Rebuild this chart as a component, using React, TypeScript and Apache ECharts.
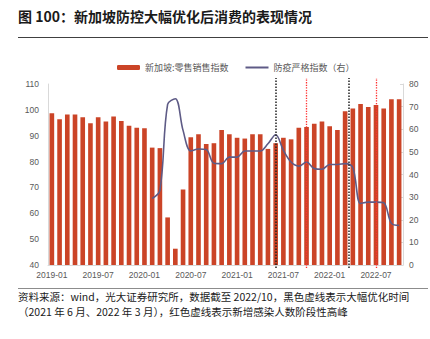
import React, { useEffect, useRef } from "react";
import * as echarts from "echarts";

const months: string[] = [
  "2019-01","2019-02","2019-03","2019-04","2019-05","2019-06","2019-07","2019-08","2019-09","2019-10","2019-11","2019-12",
  "2020-01","2020-02","2020-03","2020-04","2020-05","2020-06","2020-07","2020-08","2020-09","2020-10","2020-11","2020-12",
  "2021-01","2021-02","2021-03","2021-04","2021-05","2021-06","2021-07","2021-08","2021-09","2021-10","2021-11","2021-12",
  "2022-01","2022-02","2022-03","2022-04","2022-05","2022-06","2022-07","2022-08","2022-09","2022-10",
];

const retailIndex: number[] = [
  98.7, 96.4, 98.2, 98.2, 97.1, 94.8, 97.1, 95.5, 97.4, 95.7, 93.9, 93.1,
  92.9, 85.4, 85.2, 58.4, 46.3, 69.2, 89.4, 90.6, 86.8, 87.1, 92.2, 90.6,
  89.2, 88.9, 90.6, 90.6, 84.9, 87.1, 89.2, 88.6, 93.1, 93.4, 94.6, 95.5,
  93.7, 92.2, 99.5, 100.5, 102.3, 101.1, 101.9, 100.5, 104.1, 104.1,
];

const stringencyIndex: (number | null)[] = [
  null, null, null, null, null, null, null, null, null, null, null, null,
  null, 29.4, 33.0, 71.0, 73.5, 59.5, 50.4, 51.3, 51.0, 45.0, 44.8, 47.7,
  47.7, 50.4, 50.4, 50.4, 53.6, 57.6, 50.7, 45.5, 43.7, 45.5, 42.6, 42.3,
  44.4, 44.4, 44.8, 43.0, 27.2, 27.8, 27.8, 27.5, 18.4, 17.5,
];

const leftTicks = { min: 40, max: 110, interval: 10 };
const rightTicks = { min: 0, max: 80, interval: 10 };

const blackLinePositions: number[] = [months.indexOf("2021-06"), months.indexOf("2022-03") + 0.5];
const redLinePositions: number[] = [months.indexOf("2021-10"), months.indexOf("2022-07")];

const seriesNames = ["新加坡:零售销售指数", "防疫严格指数（右）"];

const titleText = "图 100：新加坡防控大幅优化后消费的表现情况";
const footerLine1 = "资料来源：wind，光大证券研究所，数据截至 2022/10，黑色虚线表示大幅优化时间";
const footerLine2 = "（2021 年 6 月、2022 年 3 月），红色虚线表示新增感染人数阶段性高峰";

const FONT = "'Liberation Sans', 'Noto Sans CJK SC', sans-serif";
const CJK = "'Noto Sans CJK SC', 'Liberation Sans', sans-serif";

export default function App() {
  const ref = useRef<HTMLDivElement>(null);
  useEffect(() => {
    if (!ref.current) return;
    const chart = echarts.init(ref.current, null, { renderer: "svg" });

    const vLine = (pos: number, color: string, width: number) => [
      { coord: [pos, 0], lineStyle: { color, width, type: "dotted" } },
      { coord: [pos, 1] },
    ];

    const option: any = {
      animation: false,
      backgroundColor: "#ffffff",
      textStyle: { fontFamily: FONT },
      grid: [
        { left: 48, right: 27, top: 84, bottom: 74, containLabel: false },
        { left: 48, right: 27, top: 78, bottom: 71, containLabel: false },
      ],
      legend: {
        data: [
          { name: seriesNames[0] },
          { name: seriesNames[1], itemStyle: { opacity: 0 } },
        ],
        left: 112,
        top: 58,
        itemWidth: 23,
        itemHeight: 5,
        itemGap: 16,
        textStyle: { fontFamily: CJK, fontSize: 9, color: "#595959" },
      },
      xAxis: [
        {
          type: "category",
          gridIndex: 0,
          data: months,
          boundaryGap: true,
          axisLine: { show: true, lineStyle: { color: "#d9d9d9" } },
          axisTick: { show: false },
          axisLabel: { interval: 5, color: "#595959", fontSize: 8.5, margin: 6, fontFamily: FONT },
          splitLine: { show: false },
        },
        {
          type: "value",
          gridIndex: 1,
          min: -0.5,
          max: months.length - 0.5,
          show: false,
          splitLine: { show: false },
        },
      ],
      yAxis: [
        {
          type: "value",
          gridIndex: 0,
          min: leftTicks.min,
          max: leftTicks.max,
          interval: leftTicks.interval,
          axisLine: { show: true, lineStyle: { color: "#d9d9d9" } },
          axisTick: { show: false },
          splitLine: { show: false },
          axisLabel: { color: "#595959", fontSize: 8.5, margin: 9, fontFamily: FONT },
        },
        {
          type: "value",
          gridIndex: 0,
          min: rightTicks.min,
          max: rightTicks.max,
          interval: rightTicks.interval,
          position: "right",
          axisLine: { show: true, lineStyle: { color: "#d9d9d9" } },
          axisTick: { show: true, inside: true, length: 3, lineStyle: { color: "#d9d9d9" } },
          splitLine: { show: false },
          axisLabel: { color: "#595959", fontSize: 8.5, margin: 6, fontFamily: FONT },
        },
        {
          type: "value",
          gridIndex: 1,
          min: 0,
          max: 1,
          show: false,
          splitLine: { show: false },
        },
      ],
      series: [
        {
          name: seriesNames[0],
          type: "bar",
          data: retailIndex,
          xAxisIndex: 0,
          yAxisIndex: 0,
          barWidth: "60%",
          itemStyle: { color: "#CB4427" },
        },
        {
          name: seriesNames[1],
          type: "line",
          data: stringencyIndex,
          xAxisIndex: 0,
          yAxisIndex: 1,
          smooth: 0.35,
          symbol: "none",
          showSymbol: false,
          connectNulls: false,
          lineStyle: { color: "#5E5B86", width: 1.6 },
          itemStyle: { color: "#5E5B86" },
          z: 3,
        },
        {
          name: "markers",
          type: "line",
          xAxisIndex: 1,
          yAxisIndex: 2,
          data: [[0, null]],
          symbol: "none",
          z: 4,
          markLine: {
            silent: true,
            symbol: "none",
            label: { show: false },
            animation: false,
            data: [
              ...blackLinePositions.map((p) => vLine(p, "#222222", 1.5)),
              ...redLinePositions.map((p) => vLine(p, "#FF3030", 1.3)),
            ],
          },
        },
      ],
      graphic: [
        {
          type: "text",
          left: 18,
          top: 9,
          style: { text: titleText, fontFamily: CJK, fontSize: 14, fontWeight: "bold", fill: "#1a1a1a" },
        },
        {
          type: "line",
          shape: { x1: 18, y1: 37.5, x2: 428, y2: 37.5 },
          style: { stroke: "#404040", lineWidth: 1.2 },
        },
        {
          type: "line",
          shape: { x1: 18, y1: 288.5, x2: 428, y2: 288.5 },
          style: { stroke: "#8c8c8c", lineWidth: 1 },
        },
        {
          type: "text",
          left: 18,
          top: 291,
          style: { text: footerLine1, fontFamily: CJK, fontSize: 10.5, fill: "#1a1a1a" },
        },
        {
          type: "text",
          left: 18,
          top: 306,
          style: { text: footerLine2, fontFamily: CJK, fontSize: 10.5, fill: "#1a1a1a" },
        },
      ],
    };
    chart.setOption(option);
    return () => chart.dispose();
  }, []);
  return (
    <div
      ref={ref}
      style={{ position: "fixed", left: 0, top: 0, width: 430, height: 339, background: "#fff" }}
    />
  );
}
